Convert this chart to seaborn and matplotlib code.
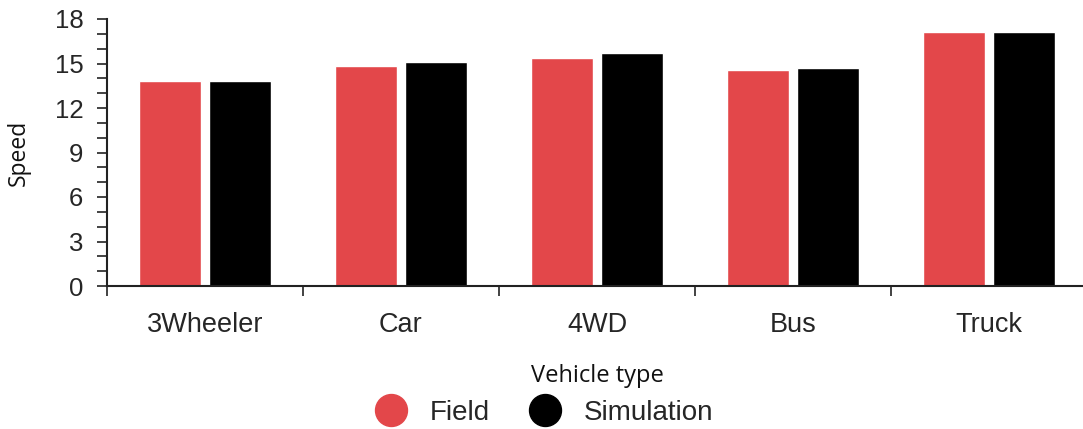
import pandas as pd
import matplotlib.pyplot as plt
import seaborn as sns
from matplotlib.lines import Line2D
from matplotlib.ticker import MultipleLocator, FixedLocator

# data
vehicles = ['3Wheeler', 'Car', '4WD', 'Bus', 'Truck']
field = [13.8, 14.85, 15.4, 14.55, 17.15]
simulation = [13.8, 15.1, 15.7, 14.7, 17.15]
series = ['Field', 'Simulation']
colors = ['#E3474A', '#000000']

df = pd.DataFrame({
    'Vehicle type': vehicles * 2,
    'Speed': field + simulation,
    'Series': ['Field'] * len(vehicles) + ['Simulation'] * len(vehicles),
})

sns.set_style('white')
plt.rcParams['font.family'] = ['Liberation Sans', 'DejaVu Sans']

fig = plt.figure(figsize=(10.83, 4.29), dpi=100)
ax = fig.add_axes([107 / 1083, 1 - 286 / 429, 980 / 1083, 267 / 429])

sns.barplot(data=df, x='Vehicle type', y='Speed', hue='Series',
            palette=colors, width=0.71, gap=0.11, saturation=1,
            legend=False, ax=ax)

ax.set_xlim(-0.5, 4.5)
ax.set_ylim(0, 18)
ax.yaxis.set_major_locator(MultipleLocator(3))
ax.yaxis.set_minor_locator(MultipleLocator(1))
ax.xaxis.set_minor_locator(FixedLocator([i - 0.5 for i in range(6)]))

ax.tick_params(axis='y', which='both', left=True, direction='out', length=7,
               width=1.2, color='#222222', labelsize=18.5, pad=10)
ax.tick_params(axis='x', which='major', bottom=False, labelsize=19.5, pad=15)
ax.tick_params(axis='x', which='minor', bottom=True, direction='out', length=7,
               width=1.2, color='#222222')

for side in ['top', 'right']:
    ax.spines[side].set_visible(False)
for side in ['left', 'bottom']:
    ax.spines[side].set_color('#222222')
    ax.spines[side].set_linewidth(1.5)

ax.set_xlabel('Vehicle type', family=['Open Sans', 'DejaVu Sans'], fontsize=17,
              labelpad=19, color='#111111')
ax.set_ylabel('Speed', family=['Open Sans', 'DejaVu Sans'], fontsize=16.5,
              labelpad=17, color='#111111')

handles = [Line2D([], [], marker='o', linestyle='', markersize=23,
                  markerfacecolor=c, markeredgecolor=c) for c in colors]
fig.legend(handles, series, loc='center', bbox_to_anchor=(0.497, 0.037),
           ncol=2, frameon=False, fontsize=20, handletextpad=0.4,
           columnspacing=1.0, borderpad=0)

fig.savefig('out.png', dpi=100)
